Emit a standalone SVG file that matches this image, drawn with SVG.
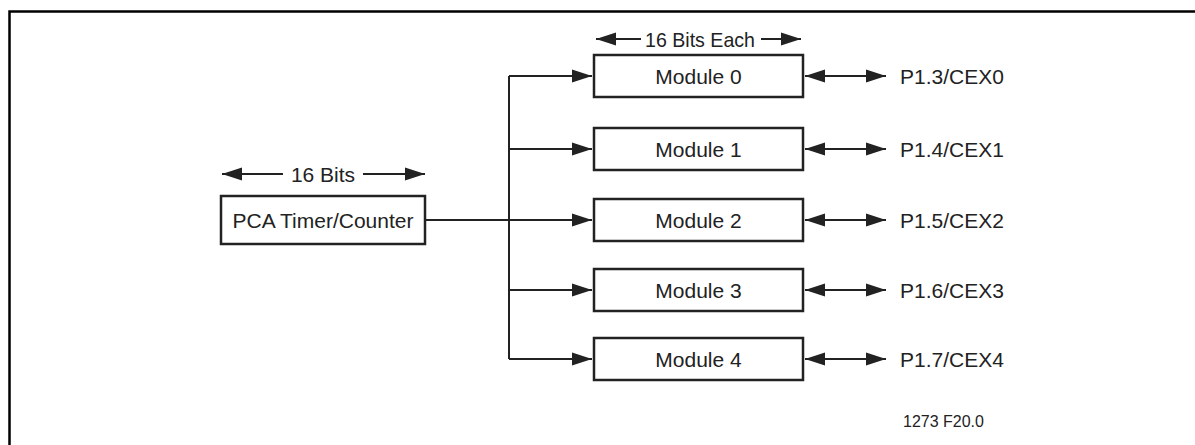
<svg xmlns="http://www.w3.org/2000/svg" width="1195" height="445" viewBox="0 0 1195 445">
<style>
.box{fill:#fff;stroke:#222;stroke-width:2.5}
.ln{fill:none;stroke:#222;stroke-width:2}
.t{font-family:"Liberation Sans",Arial,sans-serif;font-size:21px;fill:#222}
.tc{text-anchor:middle}
.s{font-size:16px}
</style>
<defs>
<marker id="ah" markerUnits="userSpaceOnUse" markerWidth="22" markerHeight="14" refX="20" refY="7" orient="auto-start-reverse">
<path d="M0,0.5 L20,7 L0,13.5 Z" fill="#222"/>
</marker>
</defs>
<rect width="1195" height="445" fill="#fff"/>
<path d="M9.5,445 V11.5 H1195" fill="none" stroke="#000" stroke-width="2.5"/>
<g id="connectors">
<path class="ln" d="M509,76 V359"/>
<path class="ln" d="M425,220 H592" marker-end="url(#ah)"/>
<path class="ln" d="M509,76 H592" marker-end="url(#ah)"/>
<path class="ln" d="M509,149 H592" marker-end="url(#ah)"/>
<path class="ln" d="M509,290 H592" marker-end="url(#ah)"/>
<path class="ln" d="M509,359 H592" marker-end="url(#ah)"/>
<path class="ln" d="M805,76 H886" marker-start="url(#ah)" marker-end="url(#ah)"/>
<path class="ln" d="M805,149 H886" marker-start="url(#ah)" marker-end="url(#ah)"/>
<path class="ln" d="M805,220 H886" marker-start="url(#ah)" marker-end="url(#ah)"/>
<path class="ln" d="M805,290 H886" marker-start="url(#ah)" marker-end="url(#ah)"/>
<path class="ln" d="M805,359 H886" marker-start="url(#ah)" marker-end="url(#ah)"/>
</g>
<g id="dim-16bits">
<path class="ln" d="M283,174 H222" marker-end="url(#ah)"/>
<path class="ln" d="M363,174 H425" marker-end="url(#ah)"/>
<text class="t tc" x="323" y="181.5">16 Bits</text>
</g>
<g id="dim-16bits-each">
<path class="ln" d="M641,39 H596" marker-end="url(#ah)"/>
<path class="ln" d="M761,39 H801" marker-end="url(#ah)"/>
<text class="t tc" x="700" y="46.5" textLength="110" lengthAdjust="spacingAndGlyphs">16 Bits Each</text>
</g>
<g id="pca">
<rect class="box" x="221" y="196" width="204" height="48"/>
<text class="t tc" x="323" y="227.5">PCA Timer/Counter</text>
</g>
<g id="module0">
<rect class="box" x="594" y="55" width="209" height="42"/>
<text class="t tc" x="698.5" y="83.5">Module 0</text>
</g>
<g id="module1">
<rect class="box" x="594" y="128" width="209" height="42"/>
<text class="t tc" x="698.5" y="156.5">Module 1</text>
</g>
<g id="module2">
<rect class="box" x="594" y="199" width="209" height="42"/>
<text class="t tc" x="698.5" y="227.5">Module 2</text>
</g>
<g id="module3">
<rect class="box" x="594" y="269" width="209" height="42"/>
<text class="t tc" x="698.5" y="297.5">Module 3</text>
</g>
<g id="module4">
<rect class="box" x="594" y="338" width="209" height="42"/>
<text class="t tc" x="698.5" y="366.5">Module 4</text>
</g>
<g id="pins">
<text class="t" x="900" y="83.5">P1.3/CEX0</text>
<text class="t" x="900" y="156.5">P1.4/CEX1</text>
<text class="t" x="900" y="227.5">P1.5/CEX2</text>
<text class="t" x="900" y="297.5">P1.6/CEX3</text>
<text class="t" x="900" y="366.5">P1.7/CEX4</text>
</g>
<text class="t s" x="903" y="427">1273 F20.0</text>
</svg>
